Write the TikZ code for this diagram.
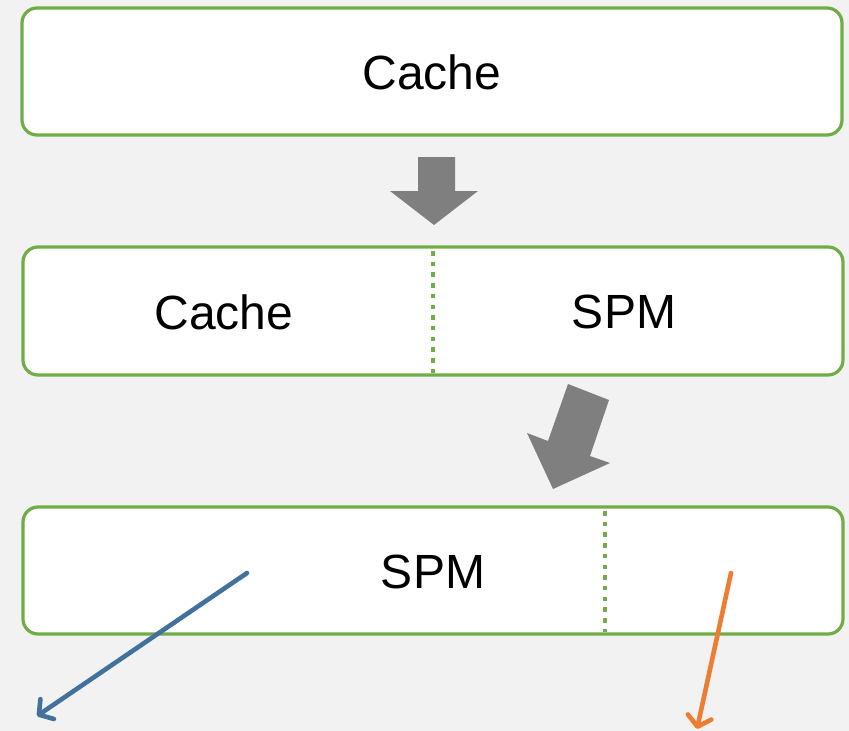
\documentclass[tikz,border=0pt]{standalone}
\usepackage{fontspec}
\setmainfont{Liberation Sans}
\usetikzlibrary{arrows.meta}
\definecolor{bggray}{HTML}{F2F2F2}
\definecolor{boxgreen}{HTML}{70AD47}
\definecolor{flowgray}{HTML}{7F7F7F}
\definecolor{lineblue}{HTML}{41719C}
\definecolor{lineorange}{HTML}{ED7D31}
\begin{document}
\begin{tikzpicture}[x=1pt,y=-1pt,
  stage/.style={draw=boxgreen,line width=3.2pt,fill=white,rounded corners=15pt},
  split/.style={draw=boxgreen,line width=4.5pt,dash pattern=on 4.5pt off 6.2pt},
  label/.style={font=\fontsize{48}{50}\selectfont,text=black,inner sep=0pt},
  flow/.style={fill=flowgray,draw=none},
  pointer/.style={line width=4.6pt,line cap=round,
    -{Straight Barb[length=10pt,width=24pt,line cap=round,line join=round]}}]
  % page
  \fill[bggray] (0,0) rectangle (849,731);
  \useasboundingbox (0,0) rectangle (849,731);
  % stages
  \draw[stage] (22,8) rectangle (842,135);
  \draw[stage] (23,247) rectangle (843,375);
  \draw[stage] (23,507) rectangle (843,634);
  % dividers
  \coordinate (d1t) at (433,251); \coordinate (d1b) at (433,373);
  \coordinate (d2t) at (605,511); \coordinate (d2b) at (605,632);
  \draw[split] (d1t) -- (d1b);
  \draw[split] (d2t) -- (d2b);
  % labels
  \node[label] (c0) at (432,72) {Cache};
  \node[label] (c1) at (224,312) {Cache};
  \node[label] (s1) at (624,312) {SPM};
  \node[label] (s2) at (433,572) {SPM};
  % block arrows
  \fill[flow] (418,157) -- (455,157) -- (455,191) -- (478,191) -- (434,225)
    -- (390,191) -- (418,191) -- cycle;
  \fill[flow] (568,384) -- (609,400) -- (590,456) -- (610,463) -- (553,489)
    -- (527,433) -- (548,441) -- cycle;
  % outgoing pointers
  \coordinate (b0) at (247,573); \coordinate (b1) at (37,716);
  \coordinate (o0) at (731,573); \coordinate (o1) at (697,729);
  \draw[pointer,lineblue] (b0) -- (b1);
  \draw[pointer,lineorange] (o0) -- (o1);
\end{tikzpicture}
\end{document}
